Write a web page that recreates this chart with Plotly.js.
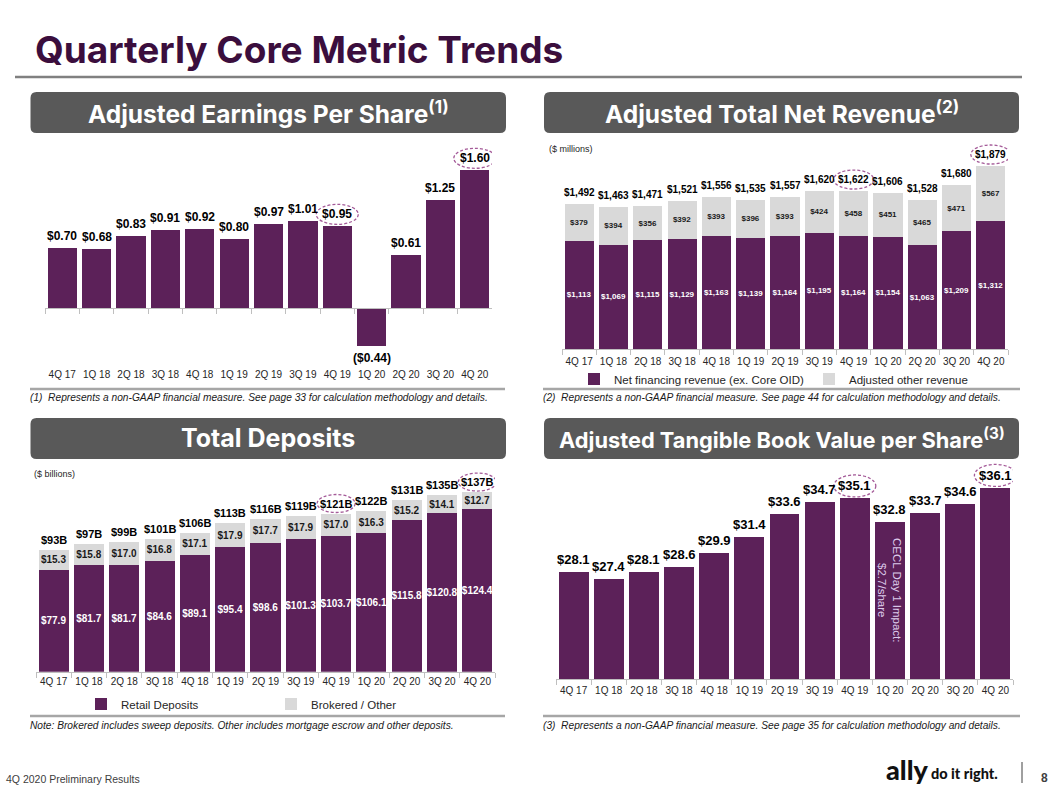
<!DOCTYPE html>
<html><head><meta charset="utf-8">
<script src="https://cdn.plot.ly/plotly-3.0.1.min.js"></script>
<style>html,body{margin:0;padding:0;background:#fff;overflow:hidden}#chart{width:1053px;height:787px}</style>
</head><body><div id="chart"></div>
<script>
// ---------- DATA ----------
const quarters = ['4Q 17','1Q 18','2Q 18','3Q 18','4Q 18','1Q 19','2Q 19','3Q 19','4Q 19','1Q 20','2Q 20','3Q 20','4Q 20'];
const eps = [0.70,0.68,0.83,0.91,0.92,0.80,0.97,1.01,0.95,-0.44,0.61,1.25,1.60];
const revNetFinancing = [1113,1069,1115,1129,1163,1139,1164,1195,1164,1154,1063,1209,1312];
const revOther = [379,394,356,392,393,396,393,424,458,451,465,471,567];
const revTotal = [1492,1463,1471,1521,1556,1535,1557,1620,1622,1606,1528,1680,1879];
const depRetail = [77.9,81.7,81.7,84.6,89.1,95.4,98.6,101.3,103.7,106.1,115.8,120.8,124.4];
const depBrokered = [15.3,15.8,17.0,16.8,17.1,17.9,17.7,17.9,17.0,16.3,15.2,14.1,12.7];
const depTotal = [93,97,99,101,106,113,116,119,121,122,131,135,137];
const tbvps = [28.1,27.4,28.1,28.6,29.9,31.4,33.6,34.7,35.1,32.8,33.7,34.6,36.1];
const highlighted = ['4Q 19','4Q 20'];
const seriesNames = ['Net financing revenue (ex. Core OID)','Adjusted other revenue','Retail Deposits','Brokered / Other'];

// ---------- HELPERS ----------
const W = 1053, H = 787;
const fx = p => p / W, fy = p => 1 - p / H;
const PURPLE = '#5c2159', GREY = '#d9d9d9', AXIS = '#bfbfbf', ELL = '#a45a98';
const BASE = '"Liberation Sans", Arial, sans-serif';
const HEAD = 'Inter, "Open Sans", sans-serif';

function xax(domain, anchor, extra) {
  return Object.assign({type:'category', domain, anchor, range:[-0.5, quarters.length-0.5],
    showline:true, linecolor:AXIS, linewidth:1, ticks:'outside', tickson:'boundaries', ticklen:5,
    tickcolor:AXIS, tickwidth:1, tickangle:0, tickfont:{family:BASE,size:10,color:'#262626'},
    showgrid:false, zeroline:false, fixedrange:true}, extra || {});
}
function yax(domain, anchor, range) {
  return {domain, anchor, range, visible:false, fixedrange:true, showgrid:false, zeroline:false};
}
function rr(x0,y0,x1,y1,r){
  const X=fx,Y=fy;
  return `M${X(x0+r)},${Y(y0)} L${X(x1-r)},${Y(y0)} Q${X(x1)},${Y(y0)} ${X(x1)},${Y(y0+r)} L${X(x1)},${Y(y1-r)} Q${X(x1)},${Y(y1)} ${X(x1-r)},${Y(y1)} L${X(x0+r)},${Y(y1)} Q${X(x0)},${Y(y1)} ${X(x0)},${Y(y1-r)} L${X(x0)},${Y(y0+r)} Q${X(x0)},${Y(y0)} ${X(x0+r)},${Y(y0)} Z`;
}
function pann(text, x, y, font, extra){
  return Object.assign({text, x:fx(x), y:fy(y), xref:'paper', yref:'paper', showarrow:false,
    xanchor:'left', yanchor:'middle', font}, extra || {});
}

const annotations = [];
const shapes = [];

// value labels + ellipses
function valueLabels(xref, yref, tops, texts, fs, shift, ew, eh){
  quarters.forEach((q,i)=>{
    const neg = tops[i] < 0;
    annotations.push({xref, yref, x:i, y:tops[i], text:texts[i], showarrow:false,
      xanchor:'center', yanchor: neg ? 'top' : 'bottom', yshift: neg ? -shift : shift,
      font:{family:BASE, size:fs, color:'#000', weight:700}});
    if (highlighted.includes(q)) {
      const c = shift + 1.5 + 0.6*fs;
      shapes.push({type:'circle', xref, yref, xsizemode:'pixel', ysizemode:'pixel',
        xanchor:i, yanchor:tops[i], x0:-ew/2, x1:ew/2, y0:c-eh/2, y1:c+eh/2,
        line:{color:ELL, width:1.3, dash:'3px,2px'}});
    }
  });
}
const money2 = v => v < 0 ? '($' + Math.abs(v).toFixed(2) + ')' : '$' + v.toFixed(2);
const money0 = v => '$' + v.toLocaleString('en-US');
const money1 = v => '$' + v.toFixed(1);

valueLabels('x','y', eps, eps.map(money2), 12, 3, 42, 20);
valueLabels('x2','y2', revNetFinancing.map((v,i)=>v+revOther[i]), revTotal.map(money0), 10, 4, 40, 19);
valueLabels('x3','y3', depRetail.map((v,i)=>v+depBrokered[i]), depTotal.map(v=>'$'+v+'B'), 11, 2, 38, 18);
valueLabels('x4','y4', tbvps, tbvps.map(money1), 13, 3, 42, 22);

// ---------- TRACES ----------
const common = {type:'bar', hoverinfo:'skip', marker:{color:PURPLE, line:{width:0}}};
const traces = [
  Object.assign({}, common, {x:quarters, y:eps, xaxis:'x', yaxis:'y', showlegend:false}),
  Object.assign({}, common, {x:quarters, y:revNetFinancing, xaxis:'x2', yaxis:'y2', name:seriesNames[0], legend:'legend',
    text:revNetFinancing.map(money0), textposition:'inside', insidetextanchor:'middle', textangle:0, constraintext:'none',
    textfont:{family:BASE, size:8, color:'#ffffff', weight:700}}),
  Object.assign({}, common, {x:quarters, y:revOther, xaxis:'x2', yaxis:'y2', name:seriesNames[1], legend:'legend',
    marker:{color:GREY, line:{width:0}},
    text:revOther.map(money0), textposition:'inside', insidetextanchor:'middle', textangle:0, constraintext:'none',
    textfont:{family:BASE, size:8, color:'#1a1a1a', weight:700}}),
  Object.assign({}, common, {x:quarters, y:depRetail, xaxis:'x3', yaxis:'y3', name:seriesNames[2], legend:'legend2',
    text:depRetail.map(money1), textposition:'inside', insidetextanchor:'middle', textangle:0, constraintext:'none',
    textfont:{family:BASE, size:10, color:'#ffffff', weight:700}}),
  Object.assign({}, common, {x:quarters, y:depBrokered, xaxis:'x3', yaxis:'y3', name:seriesNames[3], legend:'legend2',
    marker:{color:GREY, line:{width:0}},
    text:depBrokered.map(money1), textposition:'inside', insidetextanchor:'middle', textangle:0, constraintext:'none',
    textfont:{family:BASE, size:10, color:'#1a1a1a', weight:700}}),
  Object.assign({}, common, {x:quarters, y:tbvps, xaxis:'x4', yaxis:'y4', showlegend:false})
];

// ---------- DECORATION ----------
shapes.push({type:'line', xref:'paper', yref:'paper', x0:fx(15), x1:fx(1022), y0:fy(77), y1:fy(77), line:{color:'#808080', width:2.5}});
[[30.5,92,506,133],[544,92,1019,133],[30.5,418,506,459],[544,418,1019,459]].forEach(b=>{
  shapes.push({type:'path', xref:'paper', yref:'paper', path:rr(b[0],b[1],b[2],b[3],6), fillcolor:'#595959', line:{width:0}});
});
[[30,505,389],[543,1020,389],[30,505,716],[543,1020,716]].forEach(l=>{
  shapes.push({type:'line', xref:'paper', yref:'paper', x0:fx(l[0]), x1:fx(l[1]), y0:fy(l[2]), y1:fy(l[2]), line:{color:'#a6a6a6', width:2.5}});
});
shapes.push({type:'line', xref:'paper', yref:'paper', x0:fx(1022), x1:fx(1022), y0:fy(762), y1:fy(783), line:{color:'#404040', width:1}});

const headFont = s => ({family:HEAD, size:s, weight:700, color:'#ffffff'});
annotations.push(pann('Quarterly Core Metric Trends', 33, 49, {family:HEAD, size:37, weight:700, color:'#3b0e3d'}));
annotations.push(pann('Adjusted Earnings Per Share<sup>(1)</sup>', 268, 112.5, headFont(24.5), {xanchor:'center'}));
annotations.push(pann('Adjusted Total Net Revenue<sup>(2)</sup>', 781.5, 112.5, headFont(24.5), {xanchor:'center'}));
annotations.push(pann('Total Deposits', 268, 438.5, headFont(25), {xanchor:'center'}));
annotations.push(pann('Adjusted Tangible Book Value per Share<sup>(3)</sup>', 781.5, 438.5, headFont(21.8), {xanchor:'center'}));
const small = {family:BASE, size:9, color:'#262626'};
annotations.push(pann('($ millions)', 547, 149, small));
annotations.push(pann('($ billions)', 32, 474, small));
const foot = {family:BASE, size:10.2, color:'#1a1a1a', style:'italic'};
annotations.push(pann('(1)  Represents a non-GAAP financial measure. See page 33 for calculation methodology and details.', 28, 398, foot));
annotations.push(pann('(2)  Represents a non-GAAP financial measure. See page 44 for calculation methodology and details.', 541, 398, foot));
annotations.push(pann('Note: Brokered includes sweep deposits. Other includes mortgage escrow and other deposits.', 28, 725, foot));
annotations.push(pann('(3)  Represents a non-GAAP financial measure. See page 35 for calculation methodology and details.', 541, 725, foot));
annotations.push(pann('4Q 2020 Preliminary Results', 4, 779, {family:BASE, size:10.5, color:'#404040'}));
annotations.push(pann('ally', 884, 769, {family:'Lato, sans-serif', size:27, weight:900, color:'#111111'}));
annotations.push(pann('do it right.', 929, 773, {family:'Lato, sans-serif', size:14.5, weight:900, color:'#111111'}));
annotations.push(pann('8', 1044, 778, {family:BASE, size:12, weight:700, color:'#404040'}, {xanchor:'center'}));
annotations.push({xref:'x4', yref:'paper', x:quarters.indexOf('1Q 20'), y:fy(590), xanchor:'center', yanchor:'middle',
  text:'CECL Day 1 Impact:<br>$2.7/share', textangle:90, showarrow:false, font:{family:BASE, size:11.5, color:'#dccbeb'}});

// ---------- LAYOUT ----------
const layout = {
  width:W, height:H, margin:{l:0,r:0,t:0,b:0}, paper_bgcolor:'#ffffff', plot_bgcolor:'rgba(0,0,0,0)',
  barmode:'stack', bargap:0.15, showlegend:true, hovermode:false,
  xaxis: xax([fx(45), fx(492)], 'free', {position:fy(308), ticklabelstandoff:57}),
  yaxis: yax([fy(360), fy(138)], 'x', [-0.603, 1.971]),
  xaxis2: xax([fx(562), fx(1008)], 'y2', {ticklabelstandoff:3}),
  yaxis2: yax([fy(349), fy(138)], 'x2', [0, 2166.5]),
  xaxis3: xax([fx(36), fx(495)], 'y3'),
  yaxis3: yax([fy(671.7), fy(462)], 'x3', [0, 160.1]),
  xaxis4: xax([fx(556), fx(1013)], 'y4', {ticklabelstandoff:2}),
  yaxis4: yax([fy(679), fy(462)], 'x4', [17.95, 38.54]),
  legend: {x:fx(574), y:fy(379), xanchor:'left', yanchor:'middle', orientation:'h', bgcolor:'rgba(0,0,0,0)',
    font:{family:BASE, size:11.5, color:'#262626'}, itemwidth:30, entrywidth:190, entrywidthmode:'pixels', traceorder:'normal'},
  legend2: {x:fx(81), y:fy(704), xanchor:'left', yanchor:'middle', orientation:'h', bgcolor:'rgba(0,0,0,0)',
    font:{family:BASE, size:11.5, color:'#262626'}, itemwidth:30, entrywidth:145, entrywidthmode:'pixels', traceorder:'normal'},
  annotations, shapes
};
Plotly.newPlot('chart', traces, layout, {staticPlot:true, displayModeBar:false});
</script></body></html>
